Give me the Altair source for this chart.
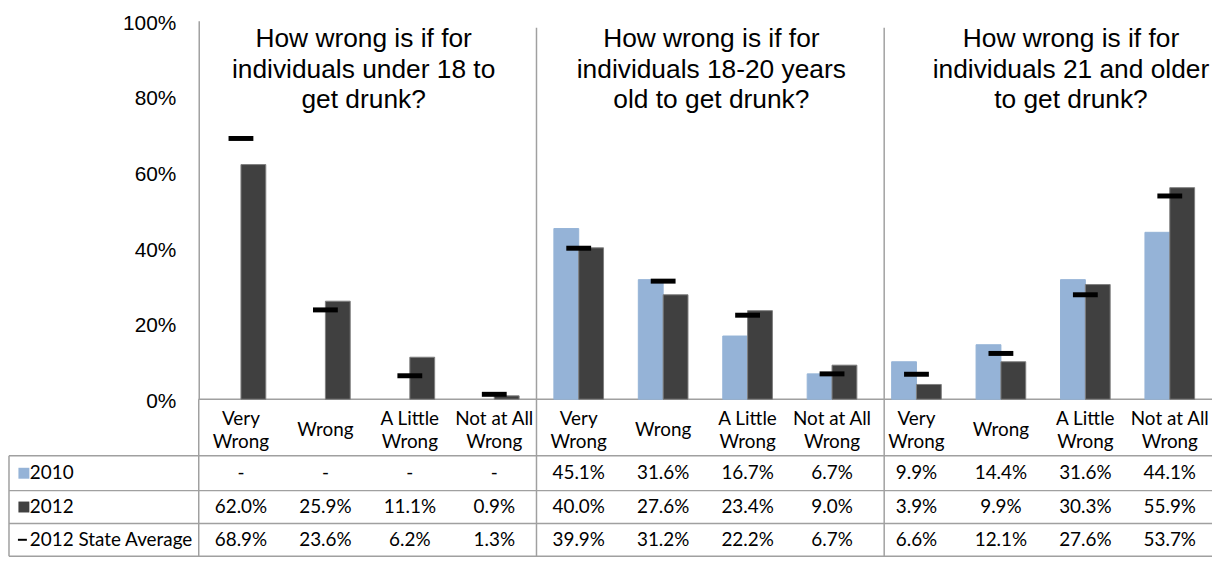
import altair as alt
import pandas as pd

# ---------------- data ----------------
question_lines = [
    ["How wrong is if for", "individuals under 18 to", "get drunk?"],
    ["How wrong is if for", "individuals 18-20 years", "old to get drunk?"],
    ["How wrong is if for", "individuals 21 and older", "to get drunk?"],
]
category_lines = [["Very", "Wrong"], ["Wrong"], ["A Little", "Wrong"], ["Not at All", "Wrong"]]
series_names = ["2010", "2012", "2012 State Average"]

values_2010 = [None, None, None, None, 45.1, 31.6, 16.7, 6.7, 9.9, 14.4, 31.6, 44.1]
values_2012 = [62.0, 25.9, 11.1, 0.9, 40.0, 27.6, 23.4, 9.0, 3.9, 9.9, 30.3, 55.9]
values_state = [68.9, 23.6, 6.2, 1.3, 39.9, 31.2, 22.2, 6.7, 6.6, 12.1, 27.6, 53.7]

# ---------------- layout ----------------
W, H = 1020, 381
NCOL = 12
COL = W / NCOL
LEFT, TOP = 200, 18
BASE = TOP + H
SANS = "Liberation Sans"
TFONT = "Lato"
LINE = "#a0a0a0"
C2010, C2012 = "#95B3D7", "#404040"


def X(px):
    return (px - LEFT) / COL


def Y(py):
    return (BASE - py) / H


BW = 25 / COL
title_center_px = [366, 716, 1078]
title_baseline_px = 44.2
cat_row_px = 430.5
cat_lh = 23.5
row_center_px = [473.5, 507.5, 540.5]
hline_px = [456, 491, 524, 557]

xs = alt.Scale(domain=[0, NCOL], nice=False, zero=False)
ys = alt.Scale(domain=[0, 1], nice=False, zero=False)

# ---------------- tables ----------------
bar_rows = []
for i in range(NCOL):
    for s, vals in (("2010", values_2010), ("2012", values_2012)):
        if vals[i] is not None:
            bar_rows.append({"col": i, "series": s, "value": vals[i] / 100, "base": 0.0})
bars_df = pd.DataFrame(bar_rows)

state_df = pd.DataFrame({"col": list(range(NCOL)), "value": [v / 100 for v in values_state]})

cells = []
for r, vals in enumerate((values_2010, values_2012, values_state)):
    for i in range(NCOL):
        v = vals[i]
        cells.append({"col": i + 0.5, "y": Y(row_center_px[r]),
                      "txt": "-" if v is None else f"{v:.1f}%"})
cells_df = pd.DataFrame(cells)

cat_lines_all = [category_lines[i % 4] for i in range(NCOL)]
cat_df = pd.DataFrame({"col": [i + 0.5 for i in range(NCOL)],
                       "y": [Y(cat_row_px - (len(l) - 1) * cat_lh / 2) for l in cat_lines_all],
                       "lines": cat_lines_all})

title_df = pd.DataFrame({"x": [X(p) for p in title_center_px],
                         "y": [Y(title_baseline_px)] * 3,
                         "lines": question_lines})

rowhead_df = pd.DataFrame({"x": [X(30)] * 3, "y": [Y(p) for p in row_center_px], "txt": series_names})
keys_df = pd.DataFrame({"x": [X(24)] * 2, "y": [Y(p) for p in row_center_px[:2]], "series": series_names[:2]})
dash_df = pd.DataFrame({"xa": [X(18)], "xb": [X(27)], "ya": [Y(row_center_px[2])]})

seg = []
for p in hline_px:
    seg.append({"xa": X(9), "xb": NCOL, "ya": Y(p), "yb": Y(p)})
seg.append({"xa": 0, "xb": NCOL, "ya": 0.0, "yb": 0.0})
for px, top, bot in ((9, 456, 557), (200, 399, 557), (540, 25, 557), (890, 25, 557)):
    seg.append({"xa": X(px), "xb": X(px), "ya": Y(top), "yb": Y(bot)})
seg_df = pd.DataFrame(seg)

# ---------------- layers ----------------
yaxis = alt.Axis(values=[0, 0.2, 0.4, 0.6, 0.8, 1.0], format=".0%", ticks=False, grid=False,
                 domainColor=LINE, domainWidth=1.5, labelFont=SANS, labelFontSize=21,
                 labelColor="#000000", labelPadding=23, labelOffset=2.5, title=None)
xaxis = None


def enc_x(f):
    return alt.X(f, scale=xs, axis=xaxis)


def enc_y(f):
    return alt.Y(f, scale=ys, axis=yaxis)


lines = alt.Chart(seg_df).mark_rule(color=LINE, strokeWidth=1.5).encode(
    x=enc_x("xa:Q"), x2="xb:Q", y=enc_y("ya:Q"), y2="yb:Q")

bars = alt.Chart(bars_df).transform_calculate(
    x0=f"datum.col + 0.5 - (datum.series == '2010' ? {BW} : 0)",
    x1=f"datum.col + 0.5 + (datum.series == '2012' ? {BW} : 0)",
).mark_rect(strokeWidth=1).encode(
    x=enc_x("x0:Q"), x2="x1:Q",
    y=enc_y("value:Q"), y2="base:Q",
    color=alt.Color("series:N", scale=alt.Scale(domain=["2010", "2012"], range=[C2010, C2012]), legend=None),
    stroke=alt.Stroke("series:N", scale=alt.Scale(domain=["2010", "2012"], range=[C2010, "#7f7f7f"]), legend=None),
)

marks = alt.Chart(state_df).transform_calculate(
    xa=f"datum.col + 0.5 - {BW / 2}", xb=f"datum.col + 0.5 + {BW / 2}"
).mark_rule(color="#000000", strokeWidth=5).encode(
    x=enc_x("xa:Q"), x2="xb:Q", y=enc_y("value:Q"))

titles = alt.Chart(title_df).mark_text(font=SANS, fontSize=26.5, lineHeight=31, align="center",
                                       baseline="alphabetic", color="#000000").encode(
    x=enc_x("x:Q"), y=enc_y("y:Q"), text="lines")

cats = alt.Chart(cat_df).mark_text(font=TFONT, fontSize=19, lineHeight=cat_lh, align="center",
                                   baseline="middle", color="#000000").encode(
    x=enc_x("col:Q"), y=enc_y("y:Q"), text="lines")

vals = alt.Chart(cells_df).mark_text(font=TFONT, fontSize=19, align="center", baseline="middle",
                                     color="#000000").encode(
    x=enc_x("col:Q"), y=enc_y("y:Q"), text="txt:N")

heads = alt.Chart(rowhead_df).mark_text(font=TFONT, fontSize=19, align="left", baseline="middle",
                                        color="#000000").encode(
    x=enc_x("x:Q"), y=enc_y("y:Q"), text="txt:N")

keys = alt.Chart(keys_df).mark_square(size=121, opacity=1).encode(
    x=enc_x("x:Q"), y=enc_y("y:Q"),
    color=alt.Color("series:N", scale=alt.Scale(domain=["2010", "2012"], range=[C2010, C2012]), legend=None))

dash = alt.Chart(dash_df).mark_rule(color="#000000", strokeWidth=2).encode(
    x=enc_x("xa:Q"), x2="xb:Q", y=enc_y("ya:Q"))

chart = alt.layer(lines, bars, marks, titles, cats, vals, heads, keys, dash).properties(
    width=W, height=H, padding={"left": 0, "top": 2, "right": 0, "bottom": 0}, background="#ffffff"
).configure_view(strokeWidth=0)

chart.save("out.html", embed_options={"renderer": "svg", "actions": False})
